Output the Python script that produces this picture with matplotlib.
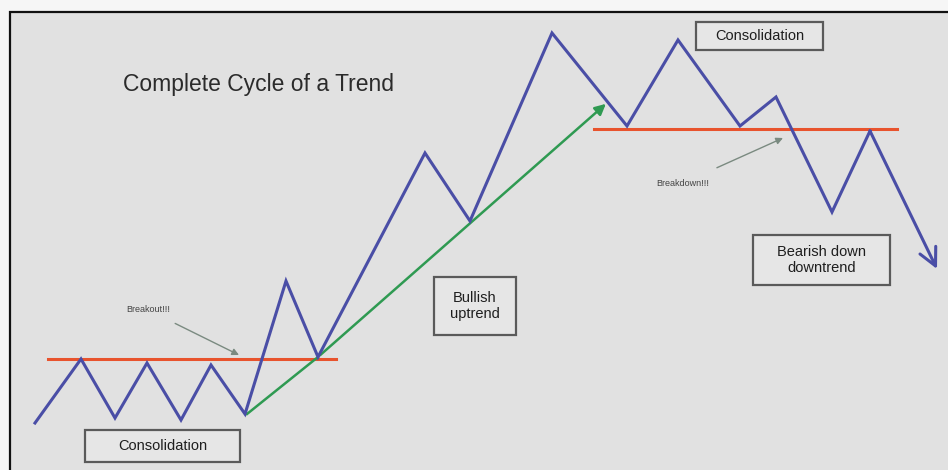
import matplotlib.pyplot as plt
from matplotlib.patches import Rectangle

plt.rcParams['font.family'] = ['Liberation Sans', 'DejaVu Sans']

# price path (picture coordinates, y grows downward)
price_x = [35, 81, 115, 147, 181, 211, 245, 286, 318, 425, 470, 552, 627, 678, 740, 776, 832, 870, 937]
price_y = [423, 359, 418, 363, 420, 365, 414, 281, 357, 153, 221, 33, 126, 40, 126, 97, 212, 131, 269]

# support / resistance levels
level_low_x = [48, 336]
level_low_y = [359, 359]
level_high_x = [594, 897]
level_high_y = [129, 129]

# uptrend line
trend_x = [247, 318, 608]
trend_y = [414, 357, 102]

title = "Complete Cycle of a Trend"
box_labels = ["Consolidation", "Bullish\nuptrend", "Consolidation", "Bearish down\ndowntrend"]
box_rects = [(85, 430, 155, 32), (434, 277, 82, 58), (696, 22, 127, 28), (753, 235, 137, 50)]

fig = plt.figure(figsize=(9.48, 4.70), dpi=100, facecolor="#f6f6f6")
ax = fig.add_axes([0, 0, 1, 1])
ax.set_xlim(0, 948)
ax.set_ylim(470, 0)
ax.axis("off")

ax.add_patch(Rectangle((10, 12), 960, 480, facecolor="#e1e1e1", edgecolor="#111111", lw=1.6, zorder=0))

ax.plot(level_low_x, level_low_y, color="#e8532d", lw=2.2, zorder=2)
ax.plot(level_high_x, level_high_y, color="#e8532d", lw=2.2, zorder=2)

ax.plot(trend_x[:-1], trend_y[:-1], color="#2f9a52", lw=1.8, zorder=2)
ax.annotate("", xy=(trend_x[-1], trend_y[-1]), xytext=(trend_x[-2], trend_y[-2]),
            arrowprops=dict(arrowstyle="-|>", color="#2f9a52", lw=1.8, mutation_scale=16), zorder=2)

ax.plot(price_x[:-1], price_y[:-1], color="#4a4ea6", lw=2.2, solid_joinstyle="miter", zorder=3)
ax.annotate("", xy=(price_x[-1], price_y[-1]), xytext=(price_x[-2], price_y[-2]),
            arrowprops=dict(arrowstyle="->,head_length=0.7,head_width=0.35", color="#4a4ea6", lw=2.2,
                            mutation_scale=18, shrinkA=0, shrinkB=0), zorder=3)

ax.text(123, 85, title, fontsize=16.5, color="#2b2b2b", va="center", ha="left")

for (x, y, w, h), label in zip(box_rects, box_labels):
    ax.add_patch(Rectangle((x, y), w, h, facecolor="#e6e6e6", edgecolor="#5a5a5a", lw=1.6, zorder=4))
    ax.text(x + w / 2, y + h / 2, label, fontsize=10.5, color="#1e1e1e", ha="center", va="center",
            linespacing=1.1, zorder=5)

ax.annotate("Breakout!!!", xy=(239, 355), xytext=(148, 310), fontsize=6.5, color="#444444",
            ha="center", va="center",
            arrowprops=dict(arrowstyle="-|>", color="#7a8a80", lw=1.0, mutation_scale=10,
                            shrinkA=10, shrinkB=0))
ax.annotate("Breakdown!!!", xy=(783, 138), xytext=(683, 183), fontsize=6.5, color="#444444",
            ha="center", va="center",
            arrowprops=dict(arrowstyle="-|>", color="#7a8a80", lw=1.0, mutation_scale=10,
                            shrinkA=14, shrinkB=0))

fig.savefig("out.png", dpi=100, facecolor=fig.get_facecolor())
